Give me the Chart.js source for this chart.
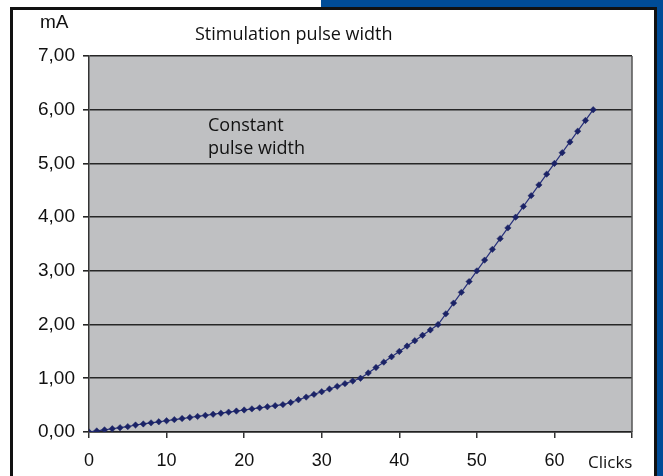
<!DOCTYPE html>
<html>
<head>
<meta charset="utf-8">
<script src="https://cdn.jsdelivr.net/npm/chart.js@4/dist/chart.umd.min.js"></script>
<style>
  html, body { margin: 0; padding: 0; background: #fff; }
  #wrap { position: relative; width: 663px; height: 476px; overflow: hidden; background: #fff; }
  #blueTop { position: absolute; left: 321px; top: 0; width: 342px; height: 8px; background: #004C97; }
  #blueRight { position: absolute; left: 657px; top: 0; width: 6px; height: 476px; background: #004C97; }
  #frame { position: absolute; left: 10px; top: 7px; width: 647px; height: 480px; border: 3px solid #111; box-sizing: border-box; }
  canvas { position: absolute; left: 0; top: 0; }
  .lbl { position: absolute; color: #111; white-space: nowrap; }
  #mA { left: 40px; top: 11px; font: 19px "Liberation Sans", Arial, sans-serif; line-height: 22px; }
  #title { left: 195px; top: 21px; font: 18px "Open Sans", sans-serif; line-height: 24px; }
  #note { left: 208px; top: 113px; font: 18px "Open Sans", sans-serif; line-height: 23px; }
  #clicks { left: 588px; top: 450px; font: 17px "Open Sans", sans-serif; line-height: 23px; }
</style>
</head>
<body>
<div id="wrap">
  <div id="blueTop"></div>
  <div id="blueRight"></div>
  <div id="frame"></div>
  <canvas id="c" width="663" height="476"></canvas>
  <div class="lbl" id="mA">mA</div>
  <div class="lbl" id="title">Stimulation pulse width</div>
  <div class="lbl" id="note">Constant<br>pulse width</div>
  <div class="lbl" id="clicks">Clicks</div>
</div>
<script>
const clicks = [0,1,2,3,4,5,6,7,8,9,10,11,12,13,14,15,16,17,18,19,20,21,22,23,24,25,26,27,28,29,30,31,32,33,34,35,36,37,38,39,40,41,42,43,44,45,46,47,48,49,50,51,52,53,54,55,56,57,58,59,60,61,62,63,64,65];
const currentMA = [0.00,0.02,0.04,0.06,0.08,0.10,0.13,0.15,0.17,0.19,0.21,0.23,0.25,0.27,0.29,0.31,0.33,0.35,0.37,0.39,0.41,0.43,0.45,0.47,0.49,0.51,0.55,0.60,0.65,0.70,0.75,0.80,0.85,0.90,0.95,1.00,1.10,1.20,1.30,1.40,1.50,1.60,1.70,1.80,1.90,2.00,2.20,2.40,2.60,2.80,3.00,3.20,3.40,3.60,3.80,4.00,4.20,4.40,4.60,4.80,5.00,5.20,5.40,5.60,5.80,6.00];
const xTicks = [0,10,20,30,40,50,60,70];
const yTicks = [0,1,2,3,4,5,6,7];

const points = clicks.map((c, i) => ({ x: c, y: currentMA[i] }));

const plotBg = {
  id: 'plotBg',
  beforeDraw(chart) {
    const { ctx, chartArea: a } = chart;
    ctx.save();
    ctx.fillStyle = '#BFC0C2';
    ctx.fillRect(a.left, a.top, a.right - a.left, a.bottom - a.top);
    ctx.restore();
  },
  beforeDatasetsDraw(chart) {
    const { ctx, chartArea: a } = chart;
    ctx.save();
    ctx.strokeStyle = '#555';
    ctx.lineWidth = 1.5;
    ctx.beginPath();
    ctx.moveTo(a.right, a.top);
    ctx.lineTo(a.right, a.bottom);
    ctx.stroke();
    ctx.restore();
  }
};

new Chart(document.getElementById('c'), {
  type: 'line',
  data: {
    datasets: [{
      data: points,
      borderColor: '#27307A',
      borderWidth: 1.2,
      backgroundColor: '#1B2366',
      pointBackgroundColor: '#1B2366',
      pointBorderColor: '#1B2366',
      pointStyle: 'rectRot',
      pointRadius: 3.2,
      pointBorderWidth: 0.5,
      tension: 0,
      fill: false
    }]
  },
  options: {
    responsive: false,
    animation: false,
    plugins: { legend: { display: false }, tooltip: { enabled: false } },
    layout: { padding: { left: 0, top: 56, right: 31, bottom: 0 } },
    scales: {
      x: {
        type: 'linear',
        min: 0, max: 70,
        afterBuildTicks(s) { s.ticks = xTicks.map(v => ({ value: v })); },
        afterFit(s) { s.height = 44; },
        border: { display: true, color: '#222', width: 1.5 },
        grid: { drawOnChartArea: false, drawTicks: true, tickLength: 6, color: '#333', lineWidth: 1.5 },
        ticks: {
          color: '#111',
          font: { family: '"Liberation Sans", Arial, sans-serif', size: 18 },
          padding: 12,
          maxRotation: 0,
          callback: v => (v === 70 ? '' : String(v))
        }
      },
      y: {
        min: 0, max: 7,
        afterBuildTicks(s) { s.ticks = yTicks.map(v => ({ value: v })); },
        afterFit(s) { s.width = 89; },
        border: { display: true, color: '#333', width: 1.5 },
        grid: { drawOnChartArea: true, drawTicks: true, tickLength: 6, color: '#262626', lineWidth: 1.6 },
        ticks: {
          color: '#111',
          font: { family: '"Liberation Sans", Arial, sans-serif', size: 19 },
          padding: 8,
          callback: v => v.toFixed(2).replace('.', ',')
        }
      }
    }
  },
  plugins: [plotBg]
});
</script>
</body>
</html>
